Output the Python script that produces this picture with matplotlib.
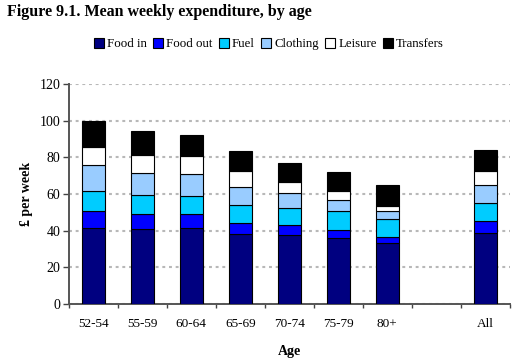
import numpy as np
import matplotlib
matplotlib.use("Agg")
import matplotlib.pyplot as plt

plt.rcParams['font.family'] = ['Liberation Serif', 'DejaVu Serif']

# Data (£ per week)
ages = ["52-54", "55-59", "60-64", "65-69", "70-74", "75-79", "80+", "", "All"]
food_in = [41.3, 40.9, 41.6, 38.4, 37.6, 36.3, 33.4, 0, 38.5]
food_out = [9.6, 8.2, 7.5, 5.6, 5.5, 4.2, 3.1, 0, 6.6]
fuel = [10.5, 10.5, 10.1, 10.0, 9.4, 10.0, 9.7, 0, 10.2]
clothing = [14.6, 11.9, 11.7, 9.6, 8.2, 6.4, 4.7, 0, 9.6]
leisure = [9.4, 10.0, 10.0, 9.1, 5.6, 4.5, 2.7, 0, 7.5]
transfers = [14.2, 13.0, 11.3, 10.9, 10.4, 10.4, 11.3, 0, 11.6]

series = [("Food in", food_in, "#000080"),
          ("Food out", food_out, "#0000ff"),
          ("Fuel", fuel, "#00ccff"),
          ("Clothing", clothing, "#99ccff"),
          ("Leisure", leisure, "#ffffff"),
          ("Transfers", transfers, "#000000")]

fig = plt.figure(figsize=(5.25, 3.59), dpi=100)
ax = fig.add_axes([0.131, 0.153, 0.84, 0.613])

x = np.arange(len(ages))
bottom = np.zeros(len(ages))
handles = []
for name, vals, col in series:
    vals = np.array(vals)
    mask = vals > 0
    b = ax.bar(x[mask], vals[mask], width=0.46, bottom=bottom[mask], color=col,
               edgecolor="black", linewidth=0.8, label=name, zorder=3)
    handles.append(b)
    bottom += vals

ax.set_xlim(-0.5, len(ages) - 0.5)
ax.set_ylim(0, 120)
ax.set_yticks(range(0, 121, 20))
ax.yaxis.grid(True, color="#b8b8b8", linewidth=1.5, linestyle=(0, (1.4, 1.8)), zorder=0)

ax.set_xticks(x)
ax.set_xticklabels(ages, fontsize=9.5)
ax.tick_params(axis="x", length=0, pad=10)
ax.set_xticks(np.arange(-0.5, len(ages)), minor=True)
ax.tick_params(axis="x", which="minor", length=3, width=1, color="#444444", direction="out")
ax.tick_params(axis="y", length=4, width=1, color="#444444", labelsize=10, pad=2)

for side in ["top", "right"]:
    ax.spines[side].set_visible(False)
for side in ["left", "bottom"]:
    ax.spines[side].set_color("#555555")
    ax.spines[side].set_linewidth(1.4)

ax.set_ylabel("£ per week", fontsize=10, fontweight="bold", labelpad=5)
ax.set_xlabel("Age", fontsize=10, fontweight="bold", labelpad=11)

fig.text(0.013, 0.966, "Figure 9.1. Mean weekly expenditure, by age",
         fontsize=11.5, fontweight="bold", ha="left", va="center")

fig.legend(handles=handles, loc="center", bbox_to_anchor=(269 / 525, 0.877),
           ncol=6, frameon=False, fontsize=9.3, handlelength=0.75, handleheight=0.75,
           handletextpad=0.25, columnspacing=0.5, borderaxespad=0)

fig.savefig("out.png", dpi=100)
